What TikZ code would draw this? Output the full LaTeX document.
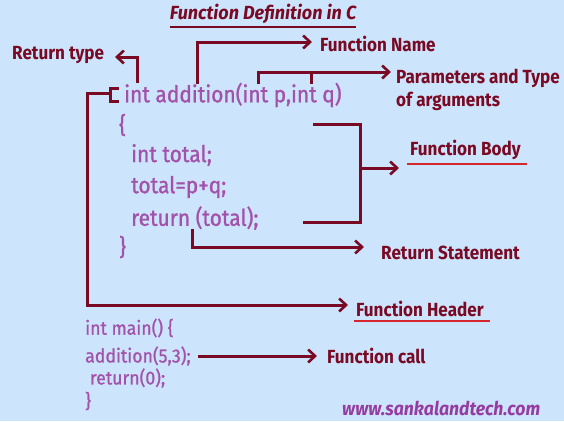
\documentclass[tikz,border=0pt]{standalone}
\usepackage{fontspec}
\usetikzlibrary{arrows.meta}
\newfontfamily\codefont{Fira Sans}[FakeStretch=0.91,FakeBold=1.2]
\newfontfamily\smallcodefont{Fira Sans}[FakeStretch=0.93,FakeBold=1.0]
\newfontfamily\labfont{Fira Sans}[FakeStretch=0.9]
\newfontfamily\titlefont{Fira Sans}[FakeStretch=0.95]
\newfontfamily\webfont{Fira Sans}[FakeStretch=0.93]
\definecolor{bgblue}{RGB}{204,229,253}
\definecolor{darkred}{RGB}{122,10,35}
\definecolor{codepurple}{RGB}{163,82,170}
\definecolor{ulred}{RGB}{216,38,46}
\definecolor{webpurple}{RGB}{150,60,160}
\tikzset{
  conn/.style={draw=darkred,line width=3pt},
  arr/.style={conn,-{Straight Barb[length=7pt,width=13pt,line width=2.6pt]}},
  lab/.style={text=darkred,font=\labfont\bfseries\fontsize{19}{21}\selectfont,anchor=west,inner sep=0pt},
  code/.style={text=codepurple,font=\codefont\fontsize{23}{25}\selectfont,anchor=west,inner sep=0pt},
  smallcode/.style={text=codepurple,font=\smallcodefont\fontsize{19}{21}\selectfont,anchor=west,inner sep=0pt},
  uline/.style={draw=ulred,line width=2.6pt},
}
\begin{document}
\begin{tikzpicture}[x=1pt,y=-1pt]
\fill[bgblue] (0,0) rectangle (564,421);
\useasboundingbox (0,0) rectangle (564,421);
% title
\node[text=darkred,font=\titlefont\bfseries\itshape\fontsize{19}{21}\selectfont,inner sep=0pt] (title) at (263,14) {Function Definition in C};
\draw[draw=darkred,line width=1.4pt] ([yshift=-3pt]title.south west) -- ([yshift=-3pt]title.south east);
% code
\node[code] (hdr) at (124,95) {int addition(int p,int q)};
\node[code] (ob) at (119,125) {\{};
\node[code] (l1) at (131,155) {int total;};
\node[code] (l2) at (131,187) {total=p+q;};
\node[code] (l3) at (131,218) {return (total);};
\node[code] (cb) at (119,247) {\}};
\node[smallcode] (m1) at (85,328) {int main() \{};
\node[smallcode] (m2) at (85,356) {addition(5,3);};
\node[smallcode] (m3) at (85,378) {~return(0);};
\node[smallcode] (m4) at (85,401) {\}};
% labels
\node[lab] (rtype) at (12,55) {Return type};
\node[lab] (fname) at (320,44) {Function Name};
\node[lab] (param) at (396,78) {Parameters and Type};
\node[lab] (param2) at (396,101) {of arguments};
\node[lab] (fbody) at (410,150) {Function Body};
\node[lab] (rstat) at (381,253) {Return Statement};
\node[lab] (fhead) at (356,309) {Function Header};
\node[lab] (fcall) at (327,356) {Function call};
\node[text=webpurple,font=\webfont\bfseries\itshape\fontsize{19}{21}\selectfont,anchor=west,inner sep=0pt] (web) at (342,408) {www.sankalandtech.com};
% underlines
\draw[uline] ([yshift=-4pt]fbody.south west) ++(-3,0) -- ([yshift=-4pt,xshift=6pt]fbody.south east);
\draw[uline] ([yshift=-4pt]fhead.south west) ++(-2,0) -- ([yshift=-4pt,xshift=6pt]fhead.south east);
% coordinates
\coordinate (rtA) at (137,83);
\coordinate (rtB) at (137,57);
\coordinate (rtT) at (115,57);
\coordinate (fnA) at (197,84);
\coordinate (fnB) at (197,42);
\coordinate (fnT) at (312,42);
\coordinate (pA) at (258,84);
\coordinate (pB) at (258,72);
\coordinate (pC) at (311,72);
\coordinate (pD) at (311,84);
\coordinate (pT) at (391,72);
\coordinate (brT) at (119,88);
\coordinate (brB) at (119,101);
\coordinate (brM) at (110,93);
\coordinate (hL) at (87,93);
\coordinate (hT) at (348,305);
\coordinate (bT) at (313,124);
\coordinate (bB) at (303,222);
\coordinate (bR) at (360,168);
\coordinate (bTip) at (399,168);
\coordinate (rsA) at (192,229);
\coordinate (rsT) at (364,247);
\coordinate (fcA) at (198,356);
\coordinate (fcT) at (317,356);
% connectors
\draw[arr] (rtA) -- (rtB) -- (rtT);
\draw[arr] (fnA) -- (fnB) -- (fnT);
\draw[arr] (pA) -- (pB) -- (pT);
\draw[conn] (pC) -- (pD);
\draw[conn] (brT) -| (brM) |- (brB);
\draw[arr] (brM) -- (hL) |- (hT);
\draw[conn] (bT) -| (bR) |- (bB);
\draw[arr] (bR) -- (bTip);
\draw[arr] (rsA) |- (rsT);
\draw[arr] (fcA) -- (fcT);
\end{tikzpicture}
\end{document}
